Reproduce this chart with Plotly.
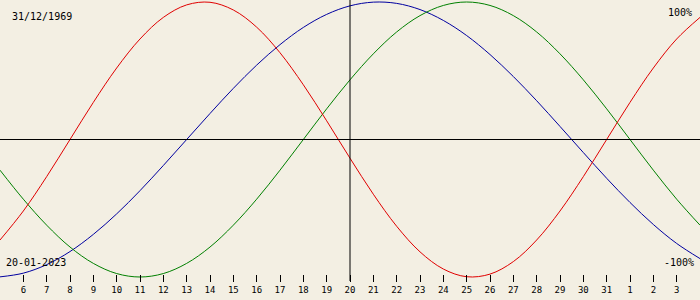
import plotly.graph_objects as go

dates = ["2023-01-%02d" % d for d in range(5, 32)] + ["2023-02-%02d" % d for d in range(1, 5)]
tick_dates = dates[1:-1]
tick_labels = [str(d) for d in range(6, 32)] + ["1", "2", "3"]

physical = [-73.1, -52.0, -27.0, 0.0, 27.0, 52.0, 73.1, 88.8, 97.9, 99.8, 94.2, 81.7, 63.1, 39.8, 13.6,
            -13.6, -39.8, -63.1, -81.7, -94.2, -99.8, -97.9, -88.8, -73.1, -52.0, -27.0, 0.0, 27.0, 52.0, 73.1, 88.8]
emotional = [-22.3, -43.4, -62.3, -78.2, -90.1, -97.5, -100.0, -97.5, -90.1, -78.2, -62.3, -43.4, -22.3, 0.0, 22.3,
             43.4, 62.3, 78.2, 90.1, 97.5, 100.0, 97.5, 90.1, 78.2, 62.3, 43.4, 22.3, 0.0, -22.3, -43.4, -62.3]
intellectual = [-99.9, -97.2, -91.0, -81.5, -69.0, -54.1, -37.2, -18.9, 0.0, 18.9, 37.2, 54.1, 69.0, 81.5, 91.0,
                97.2, 99.9, 99.0, 94.5, 86.6, 75.6, 61.8, 45.8, 28.2, 9.5, -9.5, -28.2, -45.8, -61.8, -75.6, -86.6]

birth_date = "31/12/1969"
current_date = "20-01-2023"
today = "2023-01-20"

BG = "#F3EFE3"
FONT = "DejaVu Sans Mono"

fig = go.Figure()
for vals, col in [(intellectual, "#0000A0"), (emotional, "#008000"), (physical, "#E00000")]:
    fig.add_trace(go.Scatter(x=dates, y=vals, mode="lines", line=dict(color=col, width=1, shape="spline"),
                             hoverinfo="skip", showlegend=False))

fig.add_shape(type="line", xref="paper", yref="y", x0=0, x1=1, y0=0, y1=0, line=dict(color="black", width=1))
fig.add_shape(type="line", xref="x", yref="paper", x0=today, x1=today, y0=(300 - 281) / 300, y1=1,
              line=dict(color="black", width=1))

ann = dict(showarrow=False, font=dict(family=FONT, size=10, color="black"))
fig.add_annotation(text=birth_date, xref="paper", yref="paper", x=10 / 700, y=1 - 16 / 300,
                   xanchor="left", yanchor="middle", **ann)
fig.add_annotation(text="100%", xref="paper", yref="paper", x=694 / 700, y=1 - 12 / 300,
                   xanchor="right", yanchor="middle", **ann)
fig.add_annotation(text=current_date, xref="paper", yref="paper", x=4 / 700, y=1 - 262 / 300,
                   xanchor="left", yanchor="middle", **ann)
fig.add_annotation(text="-100%", xref="paper", yref="paper", x=696 / 700, y=1 - 262 / 300,
                   xanchor="right", yanchor="middle", **ann)

# 0% at pixel row 139.5, +/-100% at 137.5 px above/below
scale = 137.5 / 100
ymax = 139.5 / scale
ymin = -(300 - 139.5) / scale

fig.update_layout(
    width=700, height=300, margin=dict(l=0, r=0, t=0, b=0),
    paper_bgcolor=BG, plot_bgcolor=BG,
    xaxis=dict(type="date", range=["2023-01-05", "2023-02-04"], showgrid=False, zeroline=False,
               showline=False, anchor="free", position=(300 - 274) / 300,
               tickvals=tick_dates, ticktext=tick_labels, ticks="outside", ticklen=7, tickwidth=1,
               tickcolor="black", tickfont=dict(family=FONT, size=9, color="black")),
    yaxis=dict(range=[ymin, ymax], showgrid=False, zeroline=False, showticklabels=False, showline=False,
               ticks=""),
)

fig.write_html("out.html")
